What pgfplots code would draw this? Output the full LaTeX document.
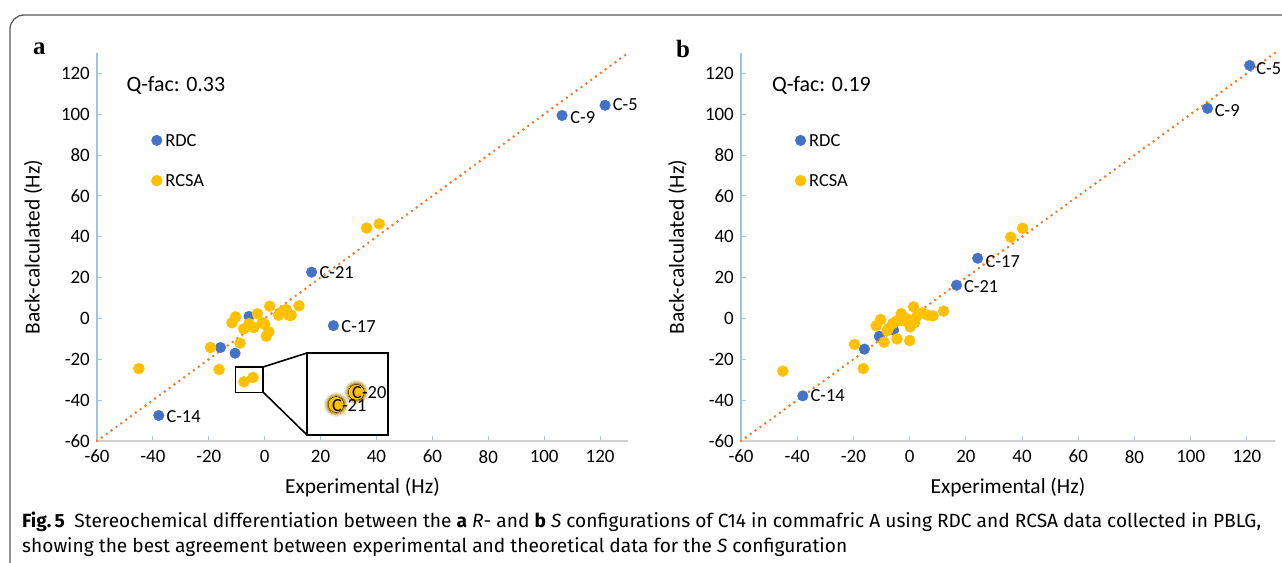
\documentclass[border=0pt]{standalone}
\usepackage{pgfplots}
\pgfplotsset{compat=1.18}
\usepackage{fontspec}
\setmainfont{Carlito}
\newfontfamily\capfont{Fira Sans}
\newfontfamily\serifb{Liberation Serif}
\definecolor{rdc}{HTML}{4472C4}
\definecolor{rcsa}{HTML}{FFC000}
\definecolor{trend}{HTML}{ED7D31}
\definecolor{yax}{HTML}{9DC3E6}
\definecolor{xax}{HTML}{D0D0D0}
\newcommand\tk{\fontsize{19}{21}\selectfont}
\newcommand\lb{\fontsize{21.5}{23}\selectfont}
\newcommand\pl{\fontsize{18.5}{20}\selectfont}

\pgfplotstableread{
x y
121.8 104.4
106.4 99.4
16.8 22.7
24.6 -3.5
-37.9 -47.5
-5.6 1.0
-15.8 -14.2
-10.6 -17.0
}\rdca
\pgfplotstableread{
x y
-45.0 -24.5
-16.3 -25.0
-19.4 -14.2
-8.8 -12.1
-11.7 -2.1
-10.4 0.8
-7.5 -5.1
-5.6 -2.5
-3.9 -4.4
-2.6 2.3
0.0 -2.9
0.6 -8.7
1.5 -6.5
1.8 6.0
5.0 1.6
7.7 4.4
8.7 1.6
9.5 1.6
12.3 6.2
-7.4 -31.0
-4.2 -28.9
-0.8 -2.1
6.1 3.2
36.5 44.3
41.0 46.3
}\rcsaa
\pgfplotstableread{
x y
121.0 123.9
106.0 102.9
24.2 29.5
16.7 16.3
-38.0 -37.9
-5.7 -5.7
-16.1 -15.0
-10.8 -8.7
}\rdcb
\pgfplotstableread{
x y
-45.1 -25.8
-16.5 -24.5
-19.6 -12.7
-9.1 -11.6
-11.9 -3.6
-10.3 -0.5
-7.5 -4.9
-4.5 -10.0
0.0 -10.8
-4.7 -1.3
-3.0 2.4
-1.2 0.0
0.2 -4.1
1.4 5.7
1.8 -2.1
4.5 2.7
6.5 1.6
8.3 1.3
12.1 3.6
-6.0 -2.5
-2.0 -1.0
2.5 1.0
-8.0 -6.0
36.0 39.8
40.2 44.2
}\rcsab

\pgfplotsset{
  panel/.style={
    scale only axis, height=388bp,
    xmin=-60, xmax=130, ymin=-60, ymax=130,
    axis x line*=bottom, axis y line*=left,
    xtick={-60,-40,...,120}, ytick={-60,-40,...,120},
    tick align=inside, major tick length=5bp,
    x axis line style={draw=xax, line width=1.2bp},
    y axis line style={draw=yax, line width=1.4bp},
    tick style={draw=yax!70!xax, line width=1bp},
    ticklabel style={font=\tk, inner sep=1bp},
    /pgf/number format/assume math mode=true,
    xticklabel style={yshift=-8bp},
    yticklabel style={xshift=-6bp},
    xlabel={Experimental (Hz)}, ylabel={Back-calculated (Hz)},
    label style={font=\lb},
    xlabel style={at={(axis description cs:0.5,0)}, anchor=center, yshift=-46bp},
    clip=false,
  },
  bluem/.style={only marks, mark=*, mark size=5.3bp, mark options={fill=rdc, draw=rdc}},
  yelm/.style={only marks, mark=*, mark size=5.5bp, mark options={fill=rcsa, draw=rcsa}},
  trendl/.style={trend, line width=2.9bp, line cap=round, dash pattern=on 0pt off 6bp},
}

\begin{document}
\begin{tikzpicture}
\path[use as bounding box] (0,0) rectangle (1282bp,-563bp);
\draw[color=black!65, line width=1.3bp, rounded corners=14bp] (10bp,-620bp) -- (10bp,-15bp) -- (1320bp,-15bp);

% ---------- panel a ----------
\begin{axis}[panel, at={(97bp,-441bp)}, anchor=south west, width=531bp,
  ylabel style={at={(axis description cs:-0.12,0.5)}, anchor=center}]
\addplot[trendl] coordinates {(-60,-60) (130,130)};
\addplot[bluem] table[x=x,y=y] {\rdca};
\addplot[yelm] table[x=x,y=y] {\rcsaa};
\addplot[bluem] coordinates {(-38.6,87.2)};
\addplot[yelm] coordinates {(-38.6,67.5)};
\node[anchor=west, font=\pl, inner sep=0] at (axis cs:-35.6,87.2) {RDC};
\node[anchor=west, font=\pl, inner sep=0] at (axis cs:-35.6,67.5) {RCSA};
\node[anchor=west, font=\fontsize{22}{24}\selectfont, inner sep=0] at (axis cs:-49.5,114) {Q-fac: 0.33};
\node[anchor=west, font=\pl, inner sep=0] at (axis cs:124.5,104.9) {C-5};
\node[anchor=west, font=\pl, inner sep=0] at (axis cs:109.3,98.4) {C-9};
\node[anchor=west, font=\pl, inner sep=0] at (axis cs:19.6,22.5) {C-21};
\node[anchor=west, font=\pl, inner sep=0] at (axis cs:27.4,-3.9) {C-17};
\node[anchor=west, font=\pl, inner sep=0] at (axis cs:-35.2,-47.8) {C-14};
\draw[black, line width=1.6bp] (axis cs:-10.5,-23.7) rectangle (axis cs:-0.7,-36.2);
\end{axis}

% inset
\draw[black, line width=1.6bp] (263bp,-367bp) -- (307bp,-353bp);
\draw[black, line width=1.6bp] (263bp,-392bp) -- (307bp,-435bp);
\begin{axis}[at={(307bp,-435bp)}, anchor=south west, scale only axis,
  width=81bp, height=82bp, xmin=-12.0, xmax=0.8, ymin=-36.2, ymax=-22.2,
  xtick=\empty, ytick=\empty, axis line style={black, line width=2bp}, clip=true]
\addplot[only marks, mark=*, mark size=12bp, mark options={fill=rcsa, draw=none, opacity=0.12}] coordinates {(-7.4,-31.0) (-4.2,-28.9)};
\addplot[only marks, mark=*, mark size=11bp, mark options={fill=rcsa, draw=none, opacity=0.2}] coordinates {(-7.4,-31.0) (-4.2,-28.9)};
\addplot[only marks, mark=*, mark size=10bp, mark options={fill=rcsa, draw=none, opacity=0.3}] coordinates {(-7.4,-31.0) (-4.2,-28.9)};
\addplot[only marks, mark=*, mark size=9bp, mark options={fill=rcsa, draw=none, opacity=0.5}] coordinates {(-7.4,-31.0) (-4.2,-28.9)};
\addplot[only marks, mark=*, mark size=8bp, mark options={fill=rcsa, draw=none}] coordinates {(-7.4,-31.0) (-4.2,-28.9)};
\end{axis}
\node[anchor=west, font=\pl, inner sep=0] at (332bp,-406bp) {C-21};
\node[anchor=west, font=\pl, inner sep=0] at (352bp,-393bp) {C-20};

% ---------- panel b ----------
\begin{axis}[panel, at={(741bp,-441bp)}, anchor=south west, width=534bp,
  ylabel style={at={(axis description cs:-0.119,0.5)}, anchor=center}]
\addplot[trendl] coordinates {(-60,-60) (130,130)};
\addplot[bluem] table[x=x,y=y] {\rdcb};
\addplot[yelm] table[x=x,y=y] {\rcsab};
\addplot[bluem] coordinates {(-38.8,87.2)};
\addplot[yelm] coordinates {(-38.8,67.5)};
\node[anchor=west, font=\pl, inner sep=0] at (axis cs:-35.8,87.2) {RDC};
\node[anchor=west, font=\pl, inner sep=0] at (axis cs:-35.8,67.5) {RCSA};
\node[anchor=west, font=\fontsize{22}{24}\selectfont, inner sep=0] at (axis cs:-49.0,114) {Q-fac: 0.19};
\node[anchor=west, font=\pl, inner sep=0] at (axis cs:123.3,122.3) {C-5};
\node[anchor=west, font=\pl, inner sep=0] at (axis cs:108.5,101.8) {C-9};
\node[anchor=west, font=\pl, inner sep=0] at (axis cs:27.0,28.0) {C-17};
\node[anchor=west, font=\pl, inner sep=0] at (axis cs:19.3,15.8) {C-21};
\node[anchor=west, font=\pl, inner sep=0] at (axis cs:-35.3,-37.9) {C-14};
\end{axis}

% panel letters
\node[anchor=base west, inner sep=0] at (33bp,-54bp) {\serifb\bfseries\fontsize{25}{25}\selectfont a};
\node[anchor=base west, inner sep=0] at (676bp,-57bp) {\serifb\bfseries\fontsize{25}{25}\selectfont b};

% caption
\node[anchor=base west, inner sep=0] at (22bp,-527bp) {\capfont\fontsize{19.2}{22}\selectfont \textbf{Fig.\,5}\hspace{0.5em}Stereochemical differentiation between the \textbf{a} \textit{R}- and \textbf{b} \textit{S} configurations of C14 in commafric A using RDC and RCSA data collected in PBLG,};
\node[anchor=base west, inner sep=0] at (22bp,-552bp) {\capfont\fontsize{19.2}{22}\selectfont showing the best agreement between experimental and theoretical data for the \textit{S} configuration};
\end{tikzpicture}
\end{document}
